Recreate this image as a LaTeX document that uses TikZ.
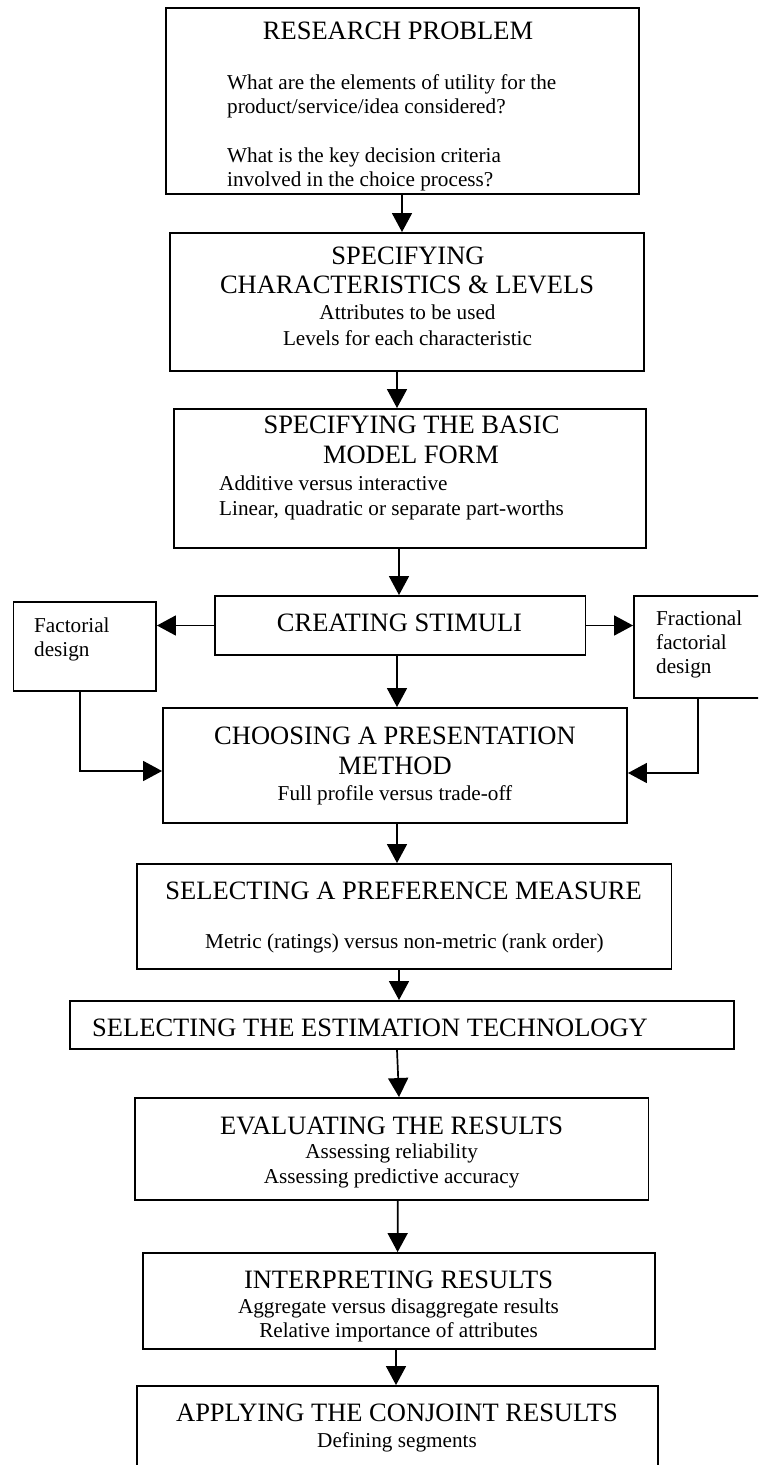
\documentclass[tikz,border=0pt]{standalone}
\usepackage{fontspec}
\setmainfont{Liberation Serif}
\usetikzlibrary{arrows.meta}
\begin{document}
\begin{tikzpicture}[x=1pt,y=-1pt,
  box/.style={draw, line width=1.9pt, inner sep=0pt},
  arr/.style={line width=1.7pt, -{Triangle[length=19pt,width=20pt]}},
  ttl/.style={font=\fontsize{26.5}{30}\selectfont, anchor=base, inner sep=0pt},
  bdy/.style={font=\fontsize{21.2}{24}\selectfont, anchor=base, inner sep=0pt},
  bdyl/.style={bdy, anchor=base west}]
\useasboundingbox (0,0) rectangle (758,1465);
\clip (0,0) rectangle (758,1465);
\fill[white] (0,0) rectangle (758,1465);
% boxes
\node[box, minimum width=473pt, minimum height=186pt] (b1) at (402.5,101) {};
\node[box, minimum width=474pt, minimum height=138pt] (b2) at (407,302) {};
\node[box, minimum width=472pt, minimum height=139pt] (b3) at (410,478.5) {};
\node[box, minimum width=370.5pt, minimum height=59pt] (cs) at (400.25,625.5) {};
\node[box, minimum width=142.5pt, minimum height=89pt] (fd) at (84.75,646.5) {};
\node[box, minimum width=146pt, minimum height=102pt] (ff) at (707,647) {};
\node[box, minimum width=464pt, minimum height=115pt] (ch) at (395,765.5) {};
\node[box, minimum width=534.5pt, minimum height=105pt] (sp) at (404.25,916.5) {};
\node[box, minimum width=664pt, minimum height=48pt] (se) at (402,1025) {};
\node[box, minimum width=513.5pt, minimum height=102pt] (ev) at (391.75,1149) {};
\node[box, minimum width=512pt, minimum height=96pt] (ip) at (399,1301) {};
\node[box, minimum width=521pt, minimum height=94pt] (ap) at (397.5,1433) {};
% texts
\node[ttl] (t1) at (398,39) {RESEARCH PROBLEM};
\node[bdyl] (t1a) at (227,89) {What are the elements of utility for the};
\node[bdyl] (t1b) at (227,113) {product/service/idea considered?};
\node[bdyl] (t1c) at (227,162) {What is the key decision criteria};
\node[bdyl] (t1d) at (227,186) {involved in the choice process?};
\node[ttl] (t2) at (408,264) {SPECIFYING};
\node[ttl] (t2b) at (407,293) {CHARACTERISTICS \& LEVELS};
\node[bdy] (t2c) at (407.5,319) {Attributes to be used};
\node[bdy] (t2d) at (407.5,345) {Levels for each characteristic};
\node[ttl] (t3) at (411.5,433) {SPECIFYING THE BASIC};
\node[ttl] (t3b) at (411,463) {MODEL FORM};
\node[bdyl] (t3c) at (219,490) {Additive versus interactive};
\node[bdyl] (t3d) at (219,515) {Linear, quadratic or separate part-worths};
\node[ttl] (t4) at (399.5,631) {CREATING STIMULI};
\node[bdyl] (t5a) at (34,632) {Factorial};
\node[bdyl] (t5b) at (34,656) {design};
\node[bdyl] (t6a) at (656,625) {Fractional};
\node[bdyl] (t6b) at (656,649) {factorial};
\node[bdyl] (t6c) at (656,673) {design};
\node[ttl] (t7) at (395,744) {CHOOSING A PRESENTATION};
\node[ttl] (t7b) at (395,774) {METHOD};
\node[bdy] (t7c) at (395,800) {Full profile versus trade-off};
\node[ttl] (t8) at (403.6,899) {SELECTING A PREFERENCE MEASURE};
\node[bdy] (t8b) at (404.5,948) {Metric (ratings) versus non-metric (rank order)};
\node[ttl, anchor=base west] (t9) at (92,1036) {SELECTING THE ESTIMATION TECHNOLOGY};
\node[ttl] (t10) at (391.6,1134) {EVALUATING THE RESULTS};
\node[bdy] (t10b) at (391.6,1158) {Assessing reliability};
\node[bdy] (t10c) at (391.6,1183) {Assessing predictive accuracy};
\node[ttl] (t11) at (398.5,1288) {INTERPRETING RESULTS};
\node[bdy] (t11b) at (398.5,1313) {Aggregate versus disaggregate results};
\node[bdy] (t11c) at (398.5,1337) {Relative importance of attributes};
\node[ttl] (t12) at (397,1421) {APPLYING THE CONJOINT RESULTS};
\node[bdy] (t12b) at (397,1447) {Defining segments};
% connectors
\draw[arr] ([xshift=-0.5pt]b1.south) -- ([xshift=-5pt]b2.north);
\draw[arr] ([xshift=-10pt]b2.south) -- ([xshift=-13pt]b3.north);
\draw[arr] ([xshift=-11pt]b3.south) -- ([xshift=-1.25pt]cs.north);
\draw[arr] (cs.west) -- (cs.west -| fd.east);
\draw[arr] (cs.east) -- (cs.east -| ff.west);
\draw[arr] ([xshift=-3.25pt]cs.south) -- ([xshift=2pt]ch.north);
\draw[arr] ([xshift=-4.75pt]fd.south) |- ([yshift=-5.5pt]ch.west);
\draw[arr] ([xshift=-9pt]ff.south) |- ([yshift=-7.5pt]ch.east);
\draw[arr] ([xshift=2pt]ch.south) -- ([xshift=-7.25pt]sp.north);
\draw[arr] ([xshift=-5.25pt]sp.south) -- ([xshift=-3pt]se.north);
\draw[arr] ([xshift=-5pt]se.south) -- ([xshift=7.25pt]ev.north);
\draw[arr] ([xshift=6pt]ev.south) -- ([xshift=-1.4pt]ip.north);
\draw[arr] ([xshift=-3pt]ip.south) -- ([xshift=-1.5pt]ap.north);
\end{tikzpicture}
\end{document}
